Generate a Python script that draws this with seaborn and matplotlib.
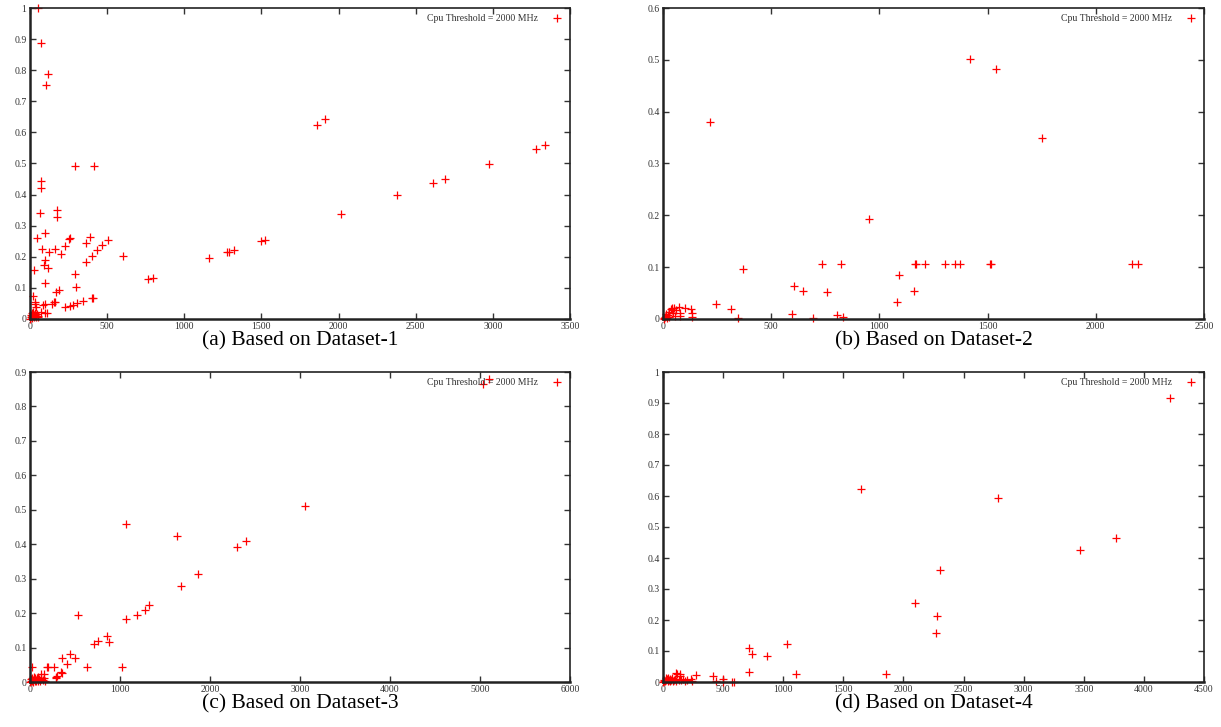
import matplotlib
matplotlib.use("Agg")
import matplotlib.pyplot as plt
from matplotlib.ticker import MultipleLocator, FuncFormatter
import seaborn as sns
import pandas as pd

# Dataset-1 (panel a)
a_x = [54, 74, 115, 104, 292, 416, 71, 69, 63, 173, 177, 95, 43, 255, 260, 390, 504,
       80, 165, 229, 364, 468, 435, 126, 203, 403, 606, 100, 91, 117, 26, 364, 290,
       97, 301, 186, 169, 22, 35, 30, 95, 87, 143, 156, 165, 225, 258, 279, 305, 344,
       405, 411, 69, 110, 97, 768, 796, 1160, 1279, 1288, 1322, 1496, 1524,
       1861, 1915, 2015, 2376, 2615, 2691, 2978, 3278, 3341,
       3, 8, 12, 15, 20, 25, 30, 35, 40, 45, 50, 22, 10, 55, 5, 28, 39]
a_y = [1.0, 0.889, 0.788, 0.753, 0.492, 0.491, 0.443, 0.42, 0.34, 0.35, 0.329, 0.275,
       0.259, 0.258, 0.261, 0.265, 0.255, 0.224, 0.224, 0.234, 0.245, 0.237, 0.222,
       0.214, 0.208, 0.203, 0.204, 0.189, 0.173, 0.165, 0.157, 0.184, 0.146, 0.117,
       0.102, 0.092, 0.086, 0.074, 0.056, 0.047, 0.049, 0.046, 0.049, 0.054, 0.056,
       0.038, 0.043, 0.046, 0.051, 0.057, 0.069, 0.067, 0.024, 0.018, 0.018, 0.128,
       0.133, 0.195, 0.214, 0.215, 0.221, 0.251, 0.255,
       0.624, 0.642, 0.338, 0.398, 0.438, 0.451, 0.498, 0.547, 0.559,
       0.0, 0.005, 0.01, 0.003, 0.015, 0.008, 0.012, 0.02, 0.006, 0.015, 0.01, 0.022,
       0.018, 0.005, 0.012, 0.013, 0.04]

# Dataset-2 (panel b)
b_x = [215, 954, 368, 737, 821, 1170, 606, 648, 756, 1091, 1161, 1083, 243, 312, 345,
       598, 694, 802, 830, 1419, 1540, 1752, 1164, 1209, 1304, 1349, 1374, 1512, 1518,
       2167, 2193,
       5, 10, 12, 18, 22, 28, 30, 35, 40, 43, 48, 50, 55, 60, 74, 79, 80, 100, 130,
       134, 132, 3, 15]
b_y = [0.381, 0.193, 0.097, 0.106, 0.106, 0.106, 0.064, 0.054, 0.052, 0.085, 0.054,
       0.033, 0.028, 0.019, 0.001, 0.010, 0.001, 0.008, 0.003, 0.502, 0.482, 0.349,
       0.106, 0.106, 0.106, 0.106, 0.106, 0.106, 0.106, 0.106, 0.107,
       0.0, 0.003, 0.006, 0.002, 0.008, 0.014, 0.004, 0.019, 0.021, 0.017, 0.011,
       0.022, 0.006, 0.018, 0.024, 0.006, 0.011, 0.021, 0.019, 0.012, 0.004, 0.001,
       0.01]

# Dataset-3 (panel c)
c_x = [1070, 1630, 2296, 2400, 1870, 1678, 530, 1063, 1189, 1278, 1326, 852, 881, 759,
       715, 441, 356, 504, 407, 637, 1022, 356, 293, 293, 263, 196, 189, 22, 3052,
       5037, 5104, 296, 344, 159, 122, 85,
       5, 10, 15, 20, 25, 30, 35, 40, 45, 50, 55, 60, 65, 70, 80, 90, 100, 110, 125,
       140, 150, 170]
c_y = [0.458, 0.424, 0.392, 0.410, 0.315, 0.280, 0.194, 0.184, 0.194, 0.209, 0.223,
       0.135, 0.116, 0.119, 0.110, 0.082, 0.071, 0.071, 0.053, 0.043, 0.043, 0.027,
       0.015, 0.011, 0.045, 0.045, 0.043, 0.045, 0.510, 0.866, 0.880, 0.018, 0.028,
       0.022, 0.022, 0.015,
       0.0, 0.004, 0.008, 0.002, 0.012, 0.005, 0.001, 0.009, 0.014, 0.003, 0.007,
       0.011, 0.002, 0.006, 0.013, 0.004, 0.008, 0.002, 0.01, 0.005, 0.012, 0.003]

# Dataset-4 (panel d)
d_x = [1643, 2097, 1028, 715, 742, 864, 712, 1108, 1856, 418, 438, 499, 499, 590, 575,
       271, 139, 111, 2790, 3470, 3768, 2304, 2282, 2268, 4218,
       3, 8, 12, 18, 22, 28, 35, 40, 45, 50, 55, 62, 70, 75, 80, 90, 100, 105, 119,
       138, 130, 150, 165, 180, 200, 230, 240]
d_y = [0.623, 0.256, 0.124, 0.110, 0.091, 0.083, 0.031, 0.026, 0.025, 0.019, 0.003,
       0.011, 0.001, 0.0, 0.0, 0.024, 0.025, 0.030, 0.594, 0.426, 0.465, 0.362, 0.214,
       0.159, 0.917,
       0.0, 0.003, 0.008, 0.002, 0.012, 0.005, 0.009, 0.002, 0.014, 0.006, 0.011,
       0.003, 0.008, 0.013, 0.002, 0.006, 0.01, 0.004, 0.025, 0.02, 0.008, 0.005,
       0.01, 0.003, 0.006, 0.01, 0.003]

captions = ["(a) Based on Dataset-1", "(b) Based on Dataset-2",
            "(c) Based on Dataset-3", "(d) Based on Dataset-4"]
x_limits = [3500, 2500, 6000, 4500]
x_steps = [500, 500, 1000, 500]
y_limits = [1.0, 0.6, 0.9, 1.0]
legend_label = "Cpu Threshold = 2000 MHz"

sns.set_style("ticks")
plt.rcParams["font.family"] = ["Liberation Serif", "DejaVu Serif"]

W, H = 1221, 727
fig = plt.figure(figsize=(W / 100, H / 100), dpi=100)

# axes boxes in pixels: left, top, right, bottom
boxes = [(30, 8, 570, 319), (663, 8, 1204, 319),
         (30, 372, 570, 682), (663, 372, 1204, 682)]

panels = [(a_x, a_y), (b_x, b_y), (c_x, c_y), (d_x, d_y)]
fmt = FuncFormatter(lambda v, p: f"{v:g}")

for i, (xs, ys) in enumerate(panels):
    l, t, r, b = boxes[i]
    ax = fig.add_axes([l / W, 1 - b / H, (r - l) / W, (b - t) / H])
    df = pd.DataFrame({"x": xs, "y": ys})
    sns.scatterplot(data=df, x="x", y="y", ax=ax, marker="+", color="red",
                    s=28, linewidth=0.9, label=legend_label, clip_on=False)
    ax.set_xlim(0, x_limits[i])
    ax.set_ylim(0, y_limits[i])
    ax.xaxis.set_major_locator(MultipleLocator(x_steps[i]))
    ax.yaxis.set_major_locator(MultipleLocator(0.1))
    ax.xaxis.set_major_formatter(fmt)
    ax.yaxis.set_major_formatter(fmt)
    ax.tick_params(direction="in", length=4, width=1, top=True, right=True,
                   labelsize=7, labelcolor="#333333", pad=2.5, color="#333333")
    ax.set_xlabel("")
    ax.set_ylabel("")
    for side, sp in ax.spines.items():
        sp.set_visible(True)
        sp.set_color("#222222")
        sp.set_linewidth(1.8 if side in ("left", "bottom") else 1.2)
    leg = ax.legend(loc="upper right", frameon=False, markerfirst=False,
                    fontsize=7, handletextpad=1.2, borderaxespad=0.2,
                    handlelength=1.5)
    for txt in leg.get_texts():
        txt.set_color("#333333")
    # caption under each panel
    fig.text((l + r) / 2 / W, 1 - (b + 12) / H, captions[i], ha="center",
             va="top", fontsize=15.5, color="black")

fig.savefig("out.png", dpi=100)
